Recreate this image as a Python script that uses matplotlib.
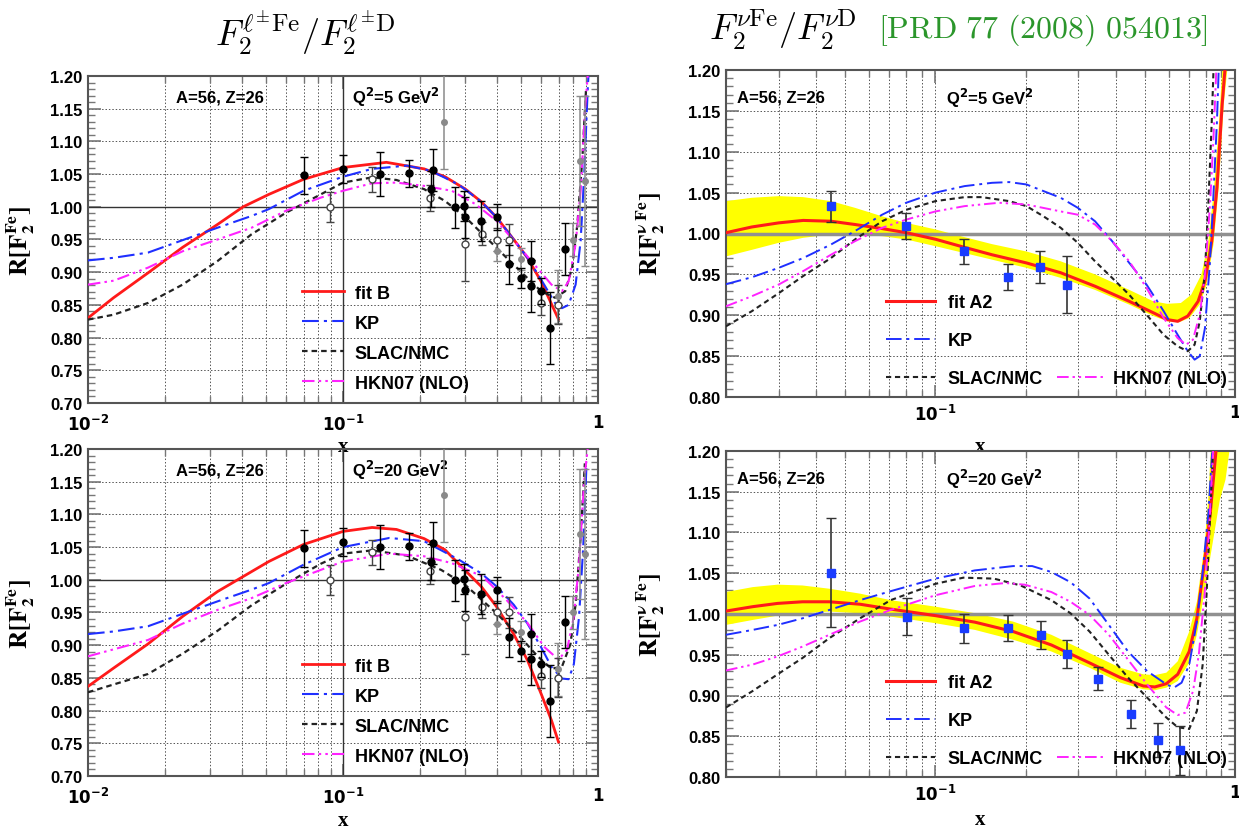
import numpy as np
import matplotlib
matplotlib.use('Agg')
import matplotlib.pyplot as plt
from matplotlib.ticker import MultipleLocator, LogLocator, NullFormatter, FormatStrFormatter

plt.rcParams['font.family'] = ['Liberation Sans', 'DejaVu Sans']
plt.rcParams['font.weight'] = 'bold'

# ---------------- charged lepton panels (left) ----------------
# Q2 = 5 GeV2
l5_fitb_x = [0.01, 0.0126, 0.0172, 0.0235, 0.0322, 0.0406, 0.0512, 0.070, 0.100, 0.148,
             0.208, 0.251, 0.302, 0.348, 0.40, 0.467, 0.529, 0.598, 0.70]
l5_fitb_y = [0.830, 0.861, 0.899, 0.938, 0.973, 1.000, 1.019, 1.042, 1.060, 1.068,
             1.058, 1.046, 1.027, 1.008, 0.984, 0.950, 0.922, 0.886, 0.828]
l5_kp_x = [0.01, 0.0126, 0.0172, 0.0235, 0.0322, 0.0438, 0.0512, 0.070, 0.1, 0.130, 0.178,
           0.221, 0.284, 0.348, 0.40, 0.467, 0.529, 0.598, 0.678, 0.722, 0.767, 0.817,
           0.855, 0.883, 0.911, 0.92]
l5_kp_y = [0.918, 0.922, 0.930, 0.949, 0.968, 0.986, 0.9965, 1.0245, 1.046, 1.058, 1.063,
           1.055, 1.034, 1.008, 0.984, 0.950, 0.922, 0.889, 0.853, 0.845, 0.850, 0.881,
           0.948, 1.05, 1.178, 1.21]
l5_slac_x = [0.01, 0.0126, 0.0172, 0.0235, 0.0322, 0.0438, 0.0598, 0.0818, 0.1, 0.130, 0.162,
             0.208, 0.251, 0.302, 0.364, 0.438, 0.529, 0.598, 0.678, 0.744, 0.792, 0.83,
             0.869, 0.897]
l5_slac_y = [0.8275, 0.835, 0.853, 0.881, 0.917, 0.958, 0.991, 1.019, 1.037, 1.045, 1.041,
             1.027, 1.009, 0.984, 0.953, 0.922, 0.891, 0.871, 0.861, 0.871, 0.907, 0.973,
             1.076, 1.178]
l5_hkn_x = [0.01, 0.0126, 0.0172, 0.0235, 0.0322, 0.0438, 0.0598, 0.0818, 0.1, 0.130, 0.162,
            0.208, 0.267, 0.331, 0.40, 0.481, 0.562, 0.657, 0.722, 0.767, 0.817, 0.855,
            0.891, 0.911]
l5_hkn_y = [0.881, 0.887, 0.907, 0.932, 0.950, 0.968, 0.994, 1.014, 1.0245, 1.036, 1.037,
            1.032, 1.0245, 1.004, 0.9785, 0.943, 0.912, 0.881, 0.871, 0.886, 0.943, 1.0245,
            1.152, 1.20]

# Q2 = 20 GeV2
l20_fitb_x = [0.01, 0.0126, 0.0172, 0.0235, 0.0322, 0.0406, 0.0512, 0.070, 0.1, 0.130, 0.162,
              0.208, 0.251, 0.302, 0.348, 0.40, 0.467, 0.529, 0.598, 0.657, 0.70]
l20_fitb_y = [0.837, 0.865, 0.902, 0.944, 0.982, 1.005, 1.028, 1.054, 1.074, 1.080, 1.077,
              1.063, 1.046, 1.014, 0.990, 0.959, 0.917, 0.877, 0.826, 0.785, 0.752]
l20_kp_x = [0.01, 0.0126, 0.0172, 0.0235, 0.0322, 0.0438, 0.0512, 0.070, 0.1, 0.152, 0.208,
            0.284, 0.348, 0.40, 0.467, 0.529, 0.598, 0.657, 0.722, 0.767, 0.804, 0.843,
            0.875, 0.902]
l20_kp_y = [0.917, 0.921, 0.929, 0.948, 0.967, 0.985, 0.995, 1.023, 1.05, 1.064, 1.059,
            1.031, 1.010, 0.990, 0.962, 0.933, 0.897, 0.867, 0.849, 0.848, 0.871, 0.944,
            1.05, 1.179]
l20_slac_x = [0.01, 0.0172, 0.0235, 0.0322, 0.0438, 0.0598, 0.0818, 0.1, 0.130, 0.178, 0.243,
              0.302, 0.387, 0.481, 0.58, 0.657, 0.722, 0.78, 0.817, 0.855, 0.888]
l20_slac_y = [0.828, 0.856, 0.887, 0.922, 0.961, 0.994, 1.0245, 1.040, 1.045, 1.037, 1.015,
              0.992, 0.954, 0.918, 0.883, 0.864, 0.867, 0.902, 0.963, 1.065, 1.178]
l20_hkn_x = [0.01, 0.0172, 0.0235, 0.0322, 0.0438, 0.0598, 0.1, 0.152, 0.208, 0.267, 0.353,
             0.438, 0.529, 0.617, 0.70, 0.756, 0.804, 0.843, 0.883, 0.911]
l20_hkn_y = [0.883, 0.908, 0.933, 0.954, 0.972, 0.995, 1.028, 1.040, 1.036, 1.0255, 1.005,
             0.969, 0.934, 0.897, 0.878, 0.893, 0.944, 1.025, 1.153, 1.20]

# charged lepton data (same points in both left panels)
dat_full_x = [0.070, 0.100, 0.140, 0.181, 0.2245, 0.221, 0.275, 0.297, 0.30, 0.348, 0.40,
              0.446, 0.497, 0.545, 0.545, 0.598, 0.647, 0.745]
dat_full_y = [1.048, 1.058, 1.050, 1.051, 1.056, 1.027, 0.999, 1.0015, 0.984, 0.9785, 0.984,
              0.912, 0.8915, 0.917, 0.879, 0.871, 0.815, 0.935]
dat_full_e = [0.028, 0.021, 0.034, 0.020, 0.032, 0.027, 0.032, 0.023, 0.031, 0.031, 0.020,
              0.030, 0.015, 0.031, 0.040, 0.020, 0.055, 0.040]
dat_open_x = [0.089, 0.130, 0.22, 0.30, 0.35, 0.40, 0.446, 0.60, 0.695]
dat_open_y = [0.999, 1.042, 1.014, 0.943, 0.959, 0.950, 0.950, 0.853, 0.8505]
dat_open_e = [0.023, 0.019, 0.020, 0.057, 0.018, 0.018, 0.023, 0.018, 0.030]
dat_grey_x = [0.25, 0.40, 0.497, 0.695, 0.80, 0.847, 0.89]
dat_grey_y = [1.13, 0.932, 0.920, 0.863, 0.95, 1.07, 1.04]
dat_grey_e = [0.072, 0.015, 0.017, 0.040, 0.025, 0.10, 0.13]

# ---------------- neutrino panels (right) ----------------
# Q2 = 5 GeV2
n5_fit_x = [0.02, 0.0244, 0.030, 0.0362, 0.0448, 0.0539, 0.0664, 0.0799, 0.1, 0.1252, 0.1545,
            0.2013, 0.2619, 0.341, 0.4437, 0.534, 0.594, 0.6437, 0.6955, 0.753, 0.794,
            0.8365, 0.8706, 0.906, 0.925]
n5_fit_y = [1.001, 1.008, 1.013, 1.016, 1.015, 1.011, 1.006, 1.001, 0.993, 0.983, 0.974,
            0.964, 0.952, 0.9355, 0.917, 0.903, 0.8947, 0.8926, 0.899, 0.917, 0.942,
            0.9906, 1.056, 1.158, 1.199]
n5_hi_x = [0.02, 0.0244, 0.030, 0.0362, 0.0448, 0.0539, 0.0664, 0.0799, 0.1, 0.1252, 0.1545,
           0.2013, 0.2619, 0.341, 0.4437, 0.534, 0.594, 0.6596, 0.714, 0.7727, 0.8146,
           0.8475, 0.882, 0.906]
n5_hi_y = [1.0396, 1.0437, 1.0457, 1.0445, 1.0396, 1.0314, 1.021, 1.013, 1.005, 0.9955, 0.987,
           0.978, 0.966, 0.950, 0.931, 0.917, 0.914, 0.915, 0.925, 0.950, 0.9906, 1.048,
           1.129, 1.199]
n5_lo_x = [0.02, 0.0244, 0.030, 0.0362, 0.0448, 0.0539, 0.0664, 0.0799, 0.1, 0.1252, 0.1545,
           0.2013, 0.2619, 0.341, 0.4437, 0.534, 0.594, 0.651, 0.7047, 0.7627, 0.804,
           0.8475, 0.882, 0.917, 0.942]
n5_lo_y = [0.972, 0.980, 0.9886, 0.9947, 0.9988, 0.9988, 0.9967, 0.9927, 0.9845, 0.976, 0.968,
           0.958, 0.9457, 0.931, 0.913, 0.899, 0.8926, 0.8914, 0.8967, 0.913, 0.9375,
           0.9865, 1.056, 1.158, 1.199]
n5_kp_x = [0.02, 0.0244, 0.030, 0.0362, 0.0448, 0.0539, 0.0664, 0.0799, 0.1, 0.1252, 0.1545,
           0.1763, 0.2013, 0.2619, 0.2988, 0.341, 0.389, 0.4437, 0.5065, 0.578, 0.6437,
           0.6955, 0.733, 0.7627, 0.794, 0.8254, 0.8475, 0.8706, 0.882]
n5_kp_y = [0.938, 0.9465, 0.958, 0.970, 0.9865, 1.003, 1.023, 1.0376, 1.05, 1.058, 1.062,
           1.0629, 1.06, 1.0437, 1.0314, 1.015, 0.9906, 0.964, 0.9376, 0.905, 0.876,
           0.856, 0.8457, 0.850, 0.8845, 0.966, 1.048, 1.1376, 1.199]
n5_slac_x = [0.02, 0.0244, 0.030, 0.0362, 0.0448, 0.0539, 0.0664, 0.0799, 0.1, 0.1252, 0.1428,
             0.1763, 0.2013, 0.2296, 0.2619, 0.2988, 0.341, 0.389, 0.4437, 0.5065, 0.578,
             0.6437, 0.6955, 0.733, 0.7627, 0.794, 0.8146, 0.8365, 0.8475]
n5_slac_y = [0.8865, 0.905, 0.927, 0.948, 0.970, 0.9927, 1.015, 1.029, 1.0396, 1.0445, 1.0445,
             1.0396, 1.0335, 1.021, 1.007, 0.9886, 0.966, 0.9457, 0.925, 0.9008, 0.876,
             0.862, 0.856, 0.864, 0.8926, 0.954, 1.0355, 1.1376, 1.199]
n5_hkn_x = [0.02, 0.0244, 0.030, 0.0362, 0.0448, 0.0539, 0.0664, 0.0799, 0.1, 0.1252, 0.163,
            0.2013, 0.2619, 0.2988, 0.341, 0.389, 0.4437, 0.5065, 0.578, 0.6437, 0.6866,
            0.7236, 0.7627, 0.794, 0.8254, 0.8475, 0.866]
n5_hkn_y = [0.911, 0.9233, 0.9376, 0.954, 0.974, 0.9906, 1.007, 1.017, 1.027, 1.0335, 1.0376,
            1.0355, 1.027, 1.023, 1.011, 0.9906, 0.966, 0.9335, 0.8967, 0.872, 0.864,
            0.870, 0.9008, 0.950, 1.0355, 1.117, 1.199]
n5_dat_x = [0.0448, 0.0795, 0.1245, 0.175, 0.2236, 0.275]
n5_dat_y = [1.0335, 1.009, 0.978, 0.9465, 0.959, 0.9375]
n5_dat_e = [0.019, 0.016, 0.015, 0.016, 0.020, 0.035]

# Q2 = 20 GeV2
n20_fit_x = [0.02, 0.02457, 0.02974, 0.0360, 0.04426, 0.056, 0.0709, 0.1, 0.1354, 0.1817,
             0.2438, 0.327, 0.414, 0.494, 0.540, 0.590, 0.644, 0.7035, 0.746, 0.791, 0.827,
             0.864]
n20_fit_y = [1.0036, 1.009, 1.013, 1.015, 1.015, 1.012, 1.006, 0.998, 0.990, 0.9785, 0.962,
             0.940, 0.922, 0.9117, 0.9105, 0.9145, 0.926, 0.954, 0.9947, 1.0636, 1.124, 1.20]
n20_hi_x = [0.02, 0.02457, 0.02974, 0.0360, 0.04426, 0.056, 0.0709, 0.1, 0.1354, 0.1817,
            0.2438, 0.327, 0.414, 0.494, 0.540, 0.590, 0.644, 0.7035, 0.746, 0.791, 0.815,
            0.83]
n20_hi_y = [1.027, 1.033, 1.036, 1.035, 1.031, 1.025, 1.017, 1.009, 1.001, 0.9907, 0.9745,
            0.952, 0.934, 0.926, 0.925, 0.928, 0.942, 0.9785, 1.015, 1.084, 1.145, 1.20]
n20_lo_x = [0.02, 0.02457, 0.02974, 0.0360, 0.04426, 0.056, 0.0709, 0.1, 0.1354, 0.1817,
            0.2438, 0.327, 0.414, 0.494, 0.540, 0.590, 0.644, 0.7035, 0.746, 0.791, 0.8395,
            0.890, 0.930, 0.958]
n20_lo_y = [0.9866, 0.9927, 0.998, 1.0008, 1.003, 1.0008, 0.9968, 0.9887, 0.9805, 0.9684,
            0.954, 0.934, 0.9157, 0.9076, 0.9064, 0.9096, 0.9177, 0.940, 0.9745, 1.027,
            1.084, 1.14, 1.165, 1.20]
n20_kp_x = [0.02, 0.02457, 0.02974, 0.0360, 0.04426, 0.056, 0.0709, 0.1, 0.1354, 0.1817,
            0.2104, 0.2438, 0.2826, 0.327, 0.3792, 0.4394, 0.5088, 0.590, 0.6254, 0.6633,
            0.7035, 0.746, 0.78, 0.815, 0.8395]
n20_kp_y = [0.9745, 0.9805, 0.9866, 0.9947, 1.005, 1.017, 1.028, 1.0434, 1.0535, 1.0588,
            1.0588, 1.0515, 1.039, 1.019, 0.9866, 0.954, 0.930, 0.9137, 0.9096, 0.9157,
            0.938, 0.9907, 1.0515, 1.124, 1.20]
n20_slac_x = [0.02, 0.02457, 0.02974, 0.0360, 0.04426, 0.056, 0.0709, 0.1, 0.124, 0.1568,
              0.1927, 0.2438, 0.2826, 0.327, 0.3792, 0.4394, 0.5088, 0.590, 0.644, 0.7035,
              0.746, 0.78, 0.8033, 0.827, 0.845]
n20_slac_y = [0.8853, 0.9056, 0.926, 0.946, 0.9704, 0.9947, 1.017, 1.037, 1.0446, 1.0434,
              1.035, 1.017, 1.0008, 0.9785, 0.950, 0.922, 0.8975, 0.873, 0.861, 0.859,
              0.881, 0.938, 1.023, 1.124, 1.20]
n20_hkn_x = [0.02, 0.02457, 0.02974, 0.0360, 0.04426, 0.056, 0.0709, 0.1, 0.1354, 0.1713,
             0.1985, 0.2438, 0.2826, 0.327, 0.3792, 0.4394, 0.5088, 0.590, 0.644, 0.6832,
             0.7246, 0.7571, 0.791, 0.820, 0.845]
n20_hkn_y = [0.9307, 0.938, 0.948, 0.960, 0.9745, 0.9907, 1.005, 1.023, 1.0344, 1.038, 1.036,
             1.027, 1.015, 0.9988, 0.9745, 0.944, 0.9137, 0.8853, 0.876, 0.879, 0.9056,
             0.950, 1.023, 1.104, 1.20]
n20_dat_x = [0.0449, 0.0802, 0.125, 0.1753, 0.2254, 0.2744, 0.350, 0.4498, 0.5527, 0.6535]
n20_dat_y = [1.0507, 0.9968, 0.9826, 0.983, 0.9745, 0.951, 0.9206, 0.8772, 0.8456, 0.8327]
n20_dat_e = [0.067, 0.023, 0.018, 0.016, 0.017, 0.0176, 0.0142, 0.017, 0.021, 0.03]

W, H = 1239, 829
fig = plt.figure(figsize=(W / 100, H / 100), dpi=100)


def box(l, t, r, b):
    return [l / W, 1 - b / H, (r - l) / W, (b - t) / H]


RED, BLUE, BLACK, MAG = '#ff1a1a', '#1f2fff', '#222222', '#ff22ff'
KP_LS = (0, (8, 2.5, 1.5, 2.5))
SLAC_LS = (0, (2.5, 1.8))
HKN_LS = (0, (6, 2, 1.2, 2, 1.2, 2))


def setup(ax, xmin, ymin, xticks, xlabels, ylab, xlab_y, xpad):
    ax.patch.set_alpha(0)
    ax.set_xscale('log')
    ax.set_xlim(xmin, 1)
    ax.set_ylim(ymin, 1.2)
    ax.set_axisbelow(True)
    ax.yaxis.set_major_locator(MultipleLocator(0.05))
    ax.yaxis.set_minor_locator(MultipleLocator(0.01))
    ax.yaxis.set_major_formatter(FormatStrFormatter('%.2f'))
    ax.set_xticks(xticks)
    ax.set_xticklabels(xlabels)
    ax.xaxis.set_minor_locator(LogLocator(base=10, subs=np.arange(2, 10)))
    ax.xaxis.set_minor_formatter(NullFormatter())
    ax.tick_params(which='both', direction='in', top=True, right=True, color='#777')
    ax.tick_params(which='major', length=9, width=1.2, labelsize=12, pad=4)
    ax.tick_params(which='minor', length=5, width=1)
    ax.tick_params(axis='x', which='major', pad=xpad)
    ax.grid(True, which='both', axis='x', color='#555', ls=(0, (1.5, 2)), lw=0.7)
    ax.grid(True, which='major', axis='y', color='#555', ls=(0, (1.5, 2)), lw=0.7)
    for s in ax.spines.values():
        s.set_color('#555')
        s.set_linewidth(1.5)
    ax.set_xlabel('x', fontfamily='Liberation Serif', fontsize=15, fontweight='bold')
    ax.xaxis.set_label_coords(0.5, xlab_y)
    ax.set_ylabel(ylab, fontsize=18, math_fontfamily='stix')


def lepton_panel(rect, q2, fb, kp, slac, hkn, xlab_y):
    ax = fig.add_axes(rect)
    setup(ax, 0.01, 0.70, [0.01, 0.1, 1],
          [r'$\mathbf{10^{-2}}$', r'$\mathbf{10^{-1}}$', r'$\mathbf{1}$'],
          r'$\mathbf{R[F_{2}^{Fe}]}$', xlab_y, 7)
    ax.yaxis.set_label_coords(-0.1, 0.5)
    ax.axhline(1.0, color='#333', lw=1.0, zorder=2)
    ax.axvline(0.1, color='#333', lw=1.0, zorder=2)
    h1, = ax.plot(fb[0], fb[1], color=RED, lw=2, label='fit B', zorder=3)
    h2, = ax.plot(kp[0], kp[1], color=BLUE, lw=1.5, ls=KP_LS, label='KP', zorder=3)
    h3, = ax.plot(slac[0], slac[1], color=BLACK, lw=1.6, ls=SLAC_LS, label='SLAC/NMC', zorder=3)
    h4, = ax.plot(hkn[0], hkn[1], color=MAG, lw=1.5, ls=HKN_LS, label='HKN07 (NLO)', zorder=3)
    ax.errorbar(dat_grey_x, dat_grey_y, yerr=dat_grey_e, fmt='o', ms=4, color='#8a8a8a',
                ecolor='#8a8a8a', elinewidth=1.1, capsize=3, zorder=4)
    ax.errorbar(dat_open_x, dat_open_y, yerr=dat_open_e, fmt='o', ms=5, mfc='white',
                mec='#444', ecolor='#444', elinewidth=1, capsize=3, zorder=4)
    ax.errorbar(dat_full_x, dat_full_y, yerr=dat_full_e, fmt='o', ms=5, color='black',
                ecolor='black', elinewidth=1, capsize=3, zorder=5)
    ax.legend(handles=[h1, h2, h3, h4], loc='lower left', bbox_to_anchor=(0.42, 0.035),
              frameon=False, fontsize=13, handlelength=2.3, handletextpad=0.6,
              labelspacing=0.72, borderpad=0, borderaxespad=0)
    ax.text(0.173, 0.937, 'A=56, Z=26', transform=ax.transAxes, fontsize=12, va='center')
    ax.text(0.518, 0.937, r'Q$^{\mathbf{2}}$=' + q2 + r' GeV$^{\mathbf{2}}$',
            transform=ax.transAxes, fontsize=12, va='center')
    return ax


def neutrino_panel(rect, q2, fit, hi, lo, kp, slac, hkn, dat, xlab_y):
    ax = fig.add_axes(rect)
    setup(ax, 0.02, 0.80, [0.1, 1], [r'$\mathbf{10^{-1}}$', r'$\mathbf{1}$'],
          r'$\mathbf{R[F_{2}^{\nu\ Fe}]}$', xlab_y, 4)
    ax.yaxis.set_label_coords(-0.115, 0.5)
    ax.fill(list(hi[0]) + list(lo[0])[::-1], list(hi[1]) + list(lo[1])[::-1],
            color='#ffff00', lw=0, zorder=1.5)
    ax.axhline(1.0, color='#909090', lw=2.5, zorder=2)
    h1, = ax.plot(fit[0], fit[1], color=RED, lw=2.2, label='fit A2', zorder=3)
    h2, = ax.plot(kp[0], kp[1], color=BLUE, lw=1.4, ls=KP_LS, label='KP', zorder=3)
    h3, = ax.plot(slac[0], slac[1], color=BLACK, lw=1.5, ls=SLAC_LS, label='SLAC/NMC', zorder=3)
    h4, = ax.plot(hkn[0], hkn[1], color=MAG, lw=1.4, ls=HKN_LS, label='HKN07 (NLO)', zorder=3)
    ax.errorbar(dat[0], dat[1], yerr=dat[2], fmt='s', ms=6, color='#1a3cff', mec='#1a3cff',
                ecolor='#333', elinewidth=1.2, capsize=3.5, zorder=5)
    leg = ax.legend(handles=[h1, h2, h3], loc='lower left', bbox_to_anchor=(0.315, 0.03),
                    frameon=False, fontsize=13, handlelength=2.7, handletextpad=0.7,
                    labelspacing=1.17, borderpad=0, borderaxespad=0)
    ax.add_artist(leg)
    ax.legend(handles=[h4], loc='lower left', bbox_to_anchor=(0.65, 0.03),
              frameon=False, fontsize=13, handlelength=2.7, handletextpad=0.4,
              borderpad=0, borderaxespad=0)
    ax.text(0.022, 0.916, 'A=56, Z=26', transform=ax.transAxes, fontsize=12, va='center')
    ax.text(0.432, 0.916, r'Q$^{\mathbf{2}}$=' + q2 + r' GeV$^{\mathbf{2}}$',
            transform=ax.transAxes, fontsize=12, va='center')
    return ax


lepton_panel(box(88, 77, 598, 404), '5',
             (l5_fitb_x, l5_fitb_y), (l5_kp_x, l5_kp_y),
             (l5_slac_x, l5_slac_y), (l5_hkn_x, l5_hkn_y), -0.1)
lepton_panel(box(88, 450, 598, 777), '20',
             (l20_fitb_x, l20_fitb_y), (l20_kp_x, l20_kp_y),
             (l20_slac_x, l20_slac_y), (l20_hkn_x, l20_hkn_y), -0.104)
neutrino_panel(box(726, 71, 1235, 398), '5',
               (n5_fit_x, n5_fit_y), (n5_hi_x, n5_hi_y), (n5_lo_x, n5_lo_y),
               (n5_kp_x, n5_kp_y), (n5_slac_x, n5_slac_y), (n5_hkn_x, n5_hkn_y),
               (n5_dat_x, n5_dat_y, n5_dat_e), -0.12)
neutrino_panel(box(726, 452, 1235, 778), '20',
               (n20_fit_x, n20_fit_y), (n20_hi_x, n20_hi_y), (n20_lo_x, n20_lo_y),
               (n20_kp_x, n20_kp_y), (n20_slac_x, n20_slac_y), (n20_hkn_x, n20_hkn_y),
               (n20_dat_x, n20_dat_y, n20_dat_e), -0.098)

fig.text(305 / W, 1 - 33 / H, r'$F_2^{\ell^{\pm}\mathrm{Fe}}/F_2^{\ell^{\pm}\mathrm{D}}$',
         math_fontfamily='cm', fontsize=26, ha='center', va='center')
fig.text(709 / W, 1 - 30 / H, r'$F_2^{\nu\mathrm{Fe}}/F_2^{\nu\mathrm{D}}$',
         math_fontfamily='cm', fontsize=26, ha='left', va='center')
fig.text(878 / W, 1 - 30 / H, r'$\mathrm{[PRD\ 77\ (2008)\ 054013]}$',
         math_fontfamily='cm', fontsize=23, color='#2b962b', ha='left', va='center')

fig.savefig('out.png', dpi=100)
